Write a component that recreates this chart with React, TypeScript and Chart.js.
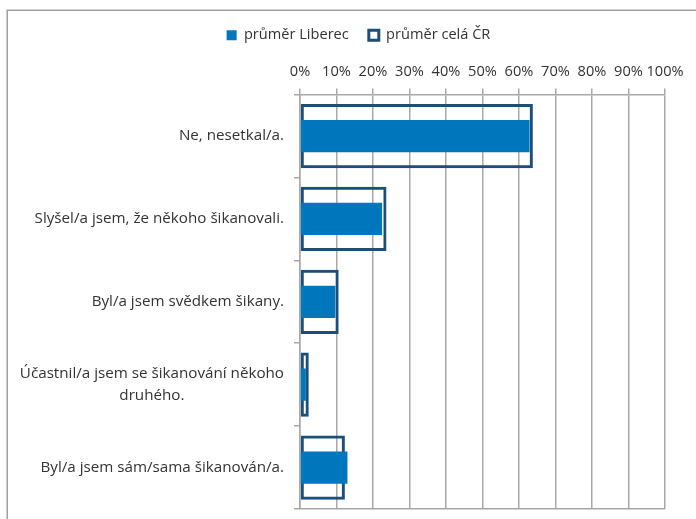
import React, { useEffect, useRef } from 'react';
import { Chart, registerables } from 'chart.js';

Chart.register(...registerables);

const categories: (string | string[])[] = [
  'Ne, nesetkal/a.',
  'Slyšel/a jsem, že někoho šikanovali.',
  'Byl/a jsem svědkem šikany.',
  ['Účastnil/a jsem se šikanování někoho', 'druhého.'],
  'Byl/a jsem sám/sama šikanován/a.',
];
const seriesNames = ['průměr Liberec', 'průměr celá ČR'];
const liberec = [62.9, 22.5, 9.7, 1.6, 13.0];
const celaCR = [63.8, 23.7, 10.6, 2.4, 12.3];
const xMin = 0;
const xMax = 100;
const xStep = 10;

const FONT = "'Open Sans', 'Noto Sans', sans-serif";
const TEXT = '#333333';
const GRID = '#a8a8a8';
const BLUE = '#0077bd';
const NAVY = '#1b4e79';

const outerBorder = {
  id: 'outerBorder',
  beforeDraw(chart: any) {
    const ctx = chart.ctx;
    ctx.save();
    ctx.fillStyle = '#ffffff';
    ctx.fillRect(0, 0, chart.width, chart.height);
    ctx.strokeStyle = '#a0a0a0';
    ctx.lineWidth = 1.5;
    ctx.strokeRect(7.25, 10.25, chart.width + 20, chart.height + 20);
    ctx.restore();
  },
};

// Centre the lines of wrapped (multi-line) category labels, as in the original
const centerMultiline = {
  id: 'centerMultiline',
  beforeDraw(chart: any) {
    const s = chart.scales.y;
    if (!s || !s.getLabelItems) return;
    const items = s.getLabelItems(chart.chartArea);
    const ctx = chart.ctx;
    items.forEach((it: any) => {
      if (!Array.isArray(it.label) || it._centered) return;
      ctx.save();
      ctx.font = it.font.string;
      const w = Math.max(...it.label.map((t: string) => ctx.measureText(t).width));
      ctx.restore();
      it.options.textAlign = 'center';
      it.options.translation[0] -= w / 2;
      it._centered = true;
    });
  },
};

export default function App() {
  const ref = useRef<HTMLCanvasElement | null>(null);

  useEffect(() => {
    document.body.style.margin = '0';
    const canvas = ref.current;
    if (!canvas) return;
    const chart = new Chart(canvas, {
      type: 'bar',
      data: {
        labels: categories as any,
        datasets: [
          {
            label: seriesNames[0],
            data: liberec,
            backgroundColor: BLUE,
            borderWidth: 0,
            barPercentage: 0.39,
            categoryPercentage: 1,
            grouped: false,
          } as any,
          {
            label: seriesNames[1],
            data: celaCR,
            backgroundColor: 'rgba(255,255,255,0)',
            borderColor: NAVY,
            borderWidth: 3,
            borderSkipped: false,
            barPercentage: 0.775,
            categoryPercentage: 1,
            grouped: false,
          } as any,
        ],
      },
      options: {
        indexAxis: 'y',
        animation: false,
        responsive: false,
        maintainAspectRatio: false,
        layout: { padding: { top: 8, left: 21, right: 0, bottom: 10 } },
        plugins: {
          legend: {
            display: true,
            position: 'top',
            labels: {
              boxWidth: 10,
              boxHeight: 10,
              padding: 20,
              color: TEXT,
              font: { family: FONT, size: 14.6 },
            },
          },
          tooltip: { enabled: false },
        },
        scales: {
          x: {
            type: 'linear',
            position: 'top',
            min: xMin,
            max: xMax,
            ticks: {
              stepSize: xStep,
              padding: 8,
              maxRotation: 0,
              minRotation: 0,
              autoSkip: false,
              color: TEXT,
              font: { family: FONT, size: 14.6 },
              callback: (v: any) => `${v}%`,
            },
            grid: {
              color: GRID,
              lineWidth: 1.5,
              tickLength: 6,
              tickColor: GRID,
            },
            border: { display: true, color: GRID, width: 1.5 },
            afterFit: (s: any) => {
              s.height = 42;
              s.paddingLeft = 0;
              s.paddingRight = 0;
            },
          },
          y: {
            type: 'category',
            position: 'left',
            ticks: {
              padding: 10,
              color: TEXT,
              font: { family: FONT, size: 15.2, lineHeight: 1.45 },
            },
            grid: {
              offset: true,
              drawOnChartArea: true,
              color: (c: any) => (c.type === 'tick' ? 'rgba(0,0,0,0)' : GRID),
              lineWidth: 1.5,
              tickLength: 6,
              tickColor: GRID,
            },
            border: { display: true, color: GRID, width: 1.5 },
            afterFit: (s: any) => {
              s.width = 279;
              s.paddingTop = 0;
              s.paddingBottom = 0;
            },
          },
          yR: {
            type: 'linear',
            axis: 'y',
            position: 'right',
            display: true,
            grid: { display: false, drawTicks: false },
            ticks: { display: false },
            border: { display: false },
            afterFit: (s: any) => {
              s.width = 31;
              s.paddingTop = 0;
              s.paddingBottom = 0;
            },
          } as any,
        },
      },
      plugins: [outerBorder, centerMultiline],
    });
    return () => chart.destroy();
  }, []);

  return (
    <div style={{ width: 696, height: 519, position: 'relative' }}>
      <canvas ref={ref} width={696} height={519} style={{ display: 'block', width: 696, height: 519 }} />
    </div>
  );
}
